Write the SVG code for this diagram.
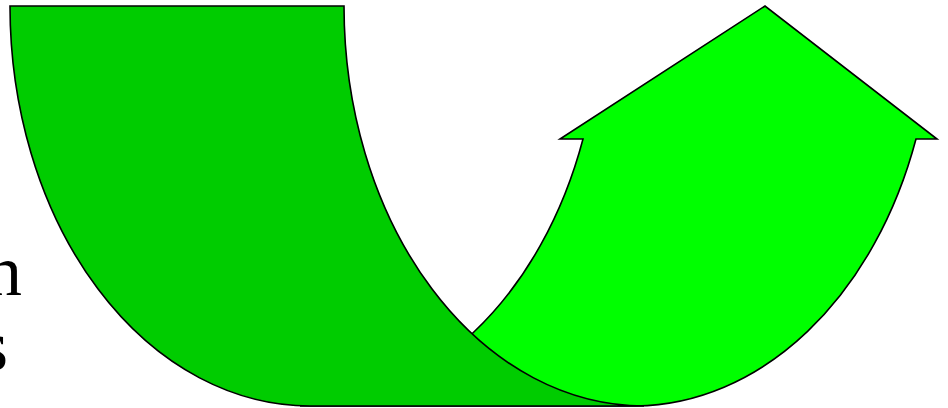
<svg xmlns="http://www.w3.org/2000/svg" width="948" height="408" viewBox="0 0 948 408">
  <style>
    .shape { stroke: #000000; stroke-width: 1.6; stroke-linejoin: miter; }
    .front { fill: #00FF00; }
    .back { fill: #00CC00; }
    .label { font-family: "Liberation Serif", "Times New Roman", serif; font-size: 72px; fill: #000000; }
  </style>
  <rect width="948" height="408" fill="#FFFFFF"/>
  <g id="labels">
    <text class="label" x="22" y="295" text-anchor="end">n</text>
    <text class="label" x="8" y="370" text-anchor="end">s</text>
  </g>
  <g id="curved-up-arrow">
    <path class="shape front" d="M 583,139 L 560,139 L 765,6 L 937,139 L 916,139 A 300 400 0 0 1 636,406 L 300,406 A 300 400 0 0 0 583,139 Z"/>
    <path class="shape back" d="M 10,6 L 344,6 A 300 400 0 0 0 644,406 L 310,406 A 300 400 0 0 1 10,6 Z"/>
  </g>
</svg>
